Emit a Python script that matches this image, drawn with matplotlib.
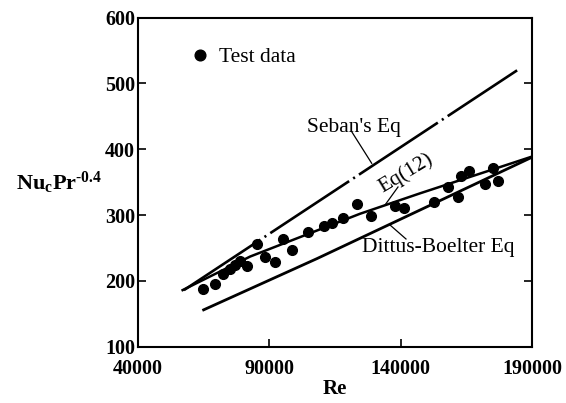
import matplotlib
matplotlib.use("Agg")
import matplotlib.pyplot as plt

plt.rcParams['font.family'] = ['Liberation Serif', 'DejaVu Serif']
plt.rcParams['mathtext.fontset'] = 'custom'
plt.rcParams['mathtext.rm'] = 'Liberation Serif:bold'
plt.rcParams['mathtext.bf'] = 'Liberation Serif:bold'
plt.rcParams['mathtext.it'] = 'Liberation Serif:bold'
plt.rcParams['lines.scale_dashes'] = False

# Test data (Re, Nu_c Pr^-0.4)
re_data = [64900, 69340, 72190, 75040, 76950, 78850, 81510, 85320, 88360, 92160,
           95210, 98630, 104720, 110810, 113850, 118040, 123370, 128690, 137820,
           141250, 152660, 157990, 161790, 162930, 165980, 172060, 175110, 177010]
nu_data = [187, 196, 210, 218, 224, 230, 222, 256, 236, 229,
           264, 247, 274, 283, 288, 296, 317, 299, 314,
           311, 320, 343, 327, 359, 367, 347, 371, 352]

# Correlations
re_seban = [57500, 184300]
nu_seban = [186, 520]
re_eq12 = [57000, 82700, 124500, 147300, 190000]
nu_eq12 = [186, 237, 302, 333, 389]
re_db = [65000, 108200, 190000]
nu_db = [156, 234, 388]

x_ticks = [40000, 90000, 140000, 190000]
y_ticks = [100, 200, 300, 400, 500, 600]

fig = plt.figure(figsize=(5.66, 4.03), dpi=100)
ax = fig.add_axes([0.2437, 0.1397, 0.6964, 0.8164])

ax.plot(re_seban, nu_seban, color='black', lw=1.9,
        linestyle=(2, (68, 3.5, 1.5, 3.5)), solid_capstyle='butt')
ax.plot(re_eq12, nu_eq12, color='black', lw=1.8)
ax.plot(re_db, nu_db, color='black', lw=2.0)
ax.plot(re_data, nu_data, 'o', color='black', markersize=7, linestyle='none',
        label='Test data')

ax.set_xlim(40000, 190000)
ax.set_ylim(100, 600)
ax.set_xticks(x_ticks)
ax.set_yticks(y_ticks)
ax.set_xticklabels([str(v) for v in x_ticks], fontweight='bold', fontsize=14.5)
ax.set_yticklabels([str(v) for v in y_ticks], fontweight='bold', fontsize=14.5)
ax.tick_params(axis='both', direction='in', length=6, width=1.2)
ax.tick_params(axis='x', pad=9)
ax.tick_params(axis='y', pad=2, right=True)
for s in ax.spines.values():
    s.set_linewidth(1.5)

ax.set_xlabel('Re', fontweight='bold', fontsize=15, labelpad=0)
fig.text(16/566, 1-190/403, r'$\mathrm{Nu_cPr^{\text{-}0.4}}$', fontsize=16,
         ha='left', va='baseline')

# annotations
ax.text(104200, 426.8, "Seban's Eq", fontsize=15.5, ha='left', va='baseline')
ax.plot([121350, 128960], [426.8, 378.7], color='black', lw=0.9)
ax.text(142000, 363, "Eq(12)", fontsize=15.5, ha='center', va='center',
        rotation=31)
ax.plot([138970, 134020], [342.7, 315.3], color='black', lw=0.9)
ax.text(125160, 244, "Dittus-Boelter Eq", fontsize=15.5, ha='left', va='baseline')
ax.plot([135920, 142010], [285, 263.7], color='black', lw=0.9)

ax.legend(loc='center left', bbox_to_anchor=(0.130, 0.8805), frameon=False,
          fontsize=15.5, handlelength=1.0, handletextpad=0.39, borderpad=0,
          borderaxespad=0, markerscale=1.1)

fig.savefig('out.png', dpi=100)
